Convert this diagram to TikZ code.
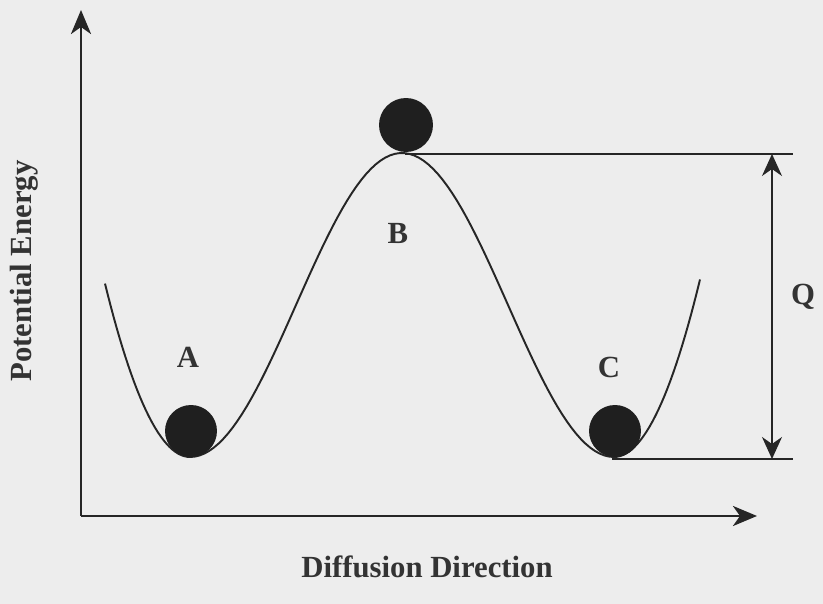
\documentclass[tikz,border=0pt]{standalone}
\usepackage{fontspec}
\setmainfont{Liberation Serif}
\usetikzlibrary{
	arrows.meta,
	positioning
}

\begin{document}
\begin{tikzpicture}[
		x=0.02cm, y=-0.02cm,
		lbl/.style={font=\fontsize{17.5}{20}\selectfont\bfseries, text=black!80, inner sep=0pt},
		ball/.style={circle, fill=black!88, inner sep=0pt, minimum size=1.04cm},
		axis/.style={draw=black!85, line width=1.7pt, -{Stealth[length=4.8mm, width=4mm, inset=1.4mm]}},
		curve/.style={draw=black!85, line width=1.1pt},
		level/.style={draw=black!85, line width=1.1pt},
		dim/.style={draw=black!85, line width=1.1pt, {Stealth[length=4.4mm, width=4mm, inset=1.4mm]}-{Stealth[length=4.4mm, width=4mm, inset=1.4mm]}}
		]
		
		% Background
		\useasboundingbox[fill=black!7] (0,0) rectangle (823,604);
		
		% Axes
		\coordinate (origin) at (81,516);
		\coordinate (ytip) at (81,10);
		\coordinate (xtip) at (757,516);
		\draw[axis] (origin) -- (ytip);
		\draw[axis] (origin) -- (xtip);
		
		% Energy curve
		\draw[curve] plot[domain=105:190, samples=30] (\x,{457-0.024*(\x-190)*(\x-190)})
			-- plot[domain=190:614, samples=90] (\x,{305-152*cos((\x-402)/212*180)})
			-- plot[domain=614:700, samples=30] (\x,{457-0.024*(\x-614)*(\x-614)});
		
		% Nodes
		\node[ball] (ballA) at (191,431) {};
		\node[ball, minimum size=1.08cm] (ballB) at (406,125) {};
		\node[ball] (ballC) at (615,431) {};
		
		\node[lbl] (A) at (188,357) {A};
		\node[lbl] (B) at (398,233) {B};
		\node[lbl] (C) at (609,367) {C};
		\node[lbl] (Q) at (803,297) {Q};
		
		\node[lbl, rotate=90] (ylabel) at (24,271) {Potential Energy};
		\node[lbl] (xlabel) at (427,567) {Diffusion Direction};
		
		% Levels
		\coordinate (peak) at (405,154);
		\coordinate (peakend) at (793,154);
		\coordinate (well) at (612,459);
		\coordinate (wellend) at (793,459);
		\coordinate (qtop) at (772,154);
		\coordinate (qbot) at (772,459);
		
		% Arrows
		\draw[level] (peak) -- (peakend);
		\draw[level] (well) -- (wellend);
		\draw[dim] (qbot) -- (qtop);
		
	\end{tikzpicture}
\end{document}
